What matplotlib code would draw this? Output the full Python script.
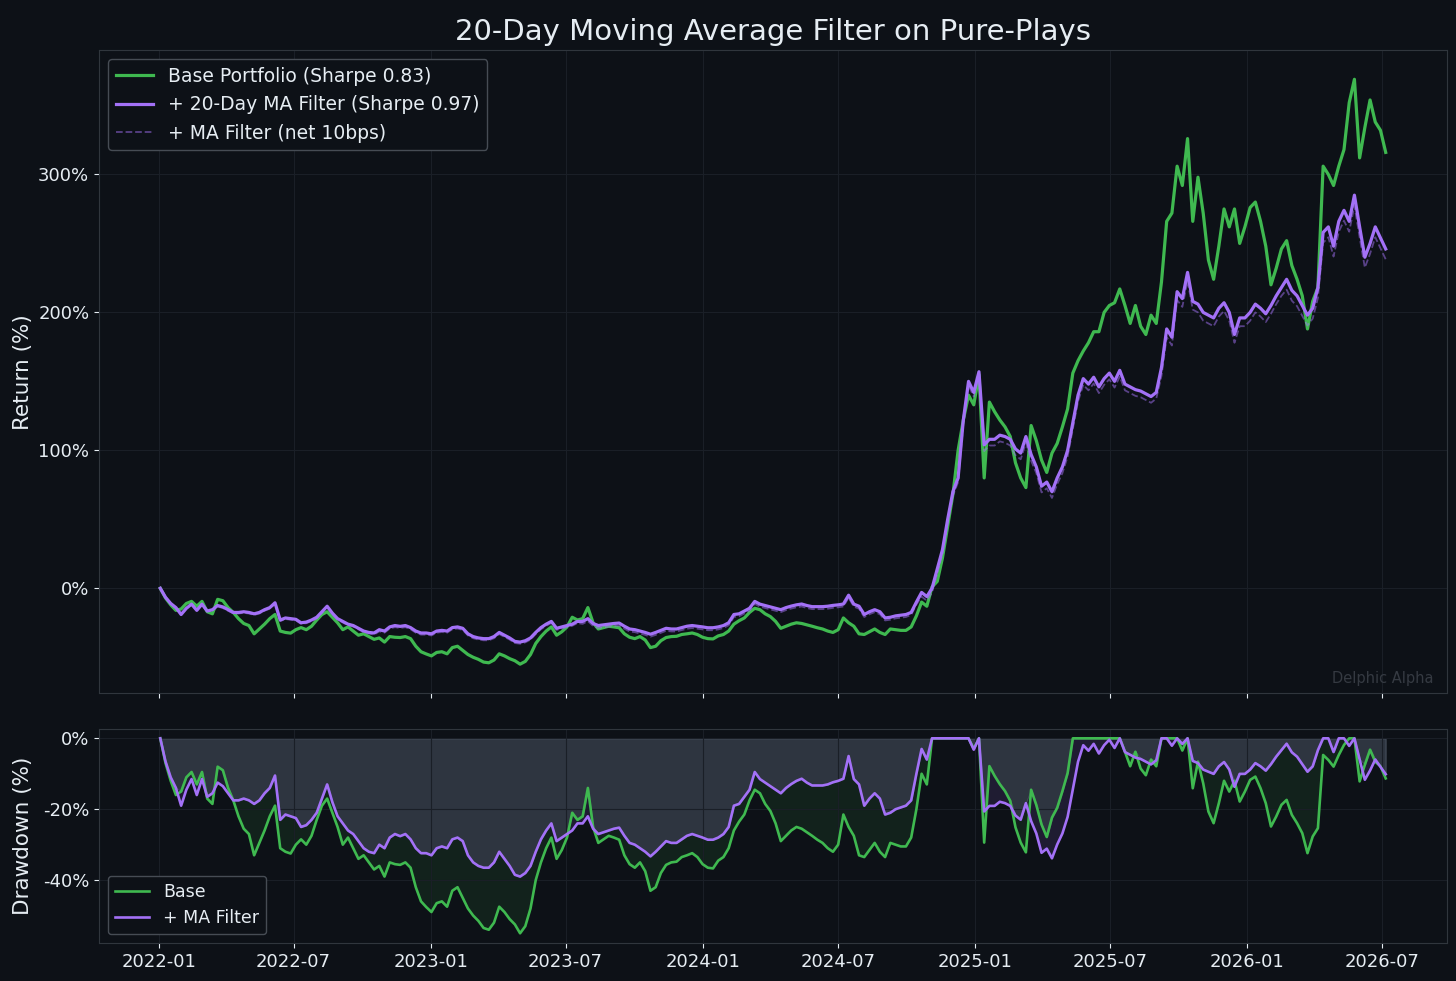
import numpy as np
import pandas as pd
import matplotlib
matplotlib.use("Agg")
import matplotlib.pyplot as plt
import matplotlib.dates as mdates
from matplotlib.ticker import FuncFormatter

# --- Données (rendement cumulé en %, une valeur par semaine) ---
start_date = "2022-01-03"

base_ret = [
    0, -7, -12, -16, -15, -11, -9.5, -13, -9.5, -17, -18.5, -8, -9, -14, -17.5, -22, -25.5, -27, -33, -29.5,
    -26, -22, -19, -31, -32, -32.5, -30, -28.5, -30, -27.5, -23, -19, -17, -21, -25, -30, -28, -31, -34, -33,
    -35, -37, -36, -39, -35, -35.5, -35.7, -35, -36.5, -42, -46, -47.6, -49, -46.5, -46, -47.5, -43, -42, -45, -48,
    -50, -51.5, -53.5, -54, -52, -47.5, -49, -51, -52.5, -55, -53, -48, -40, -35, -31, -28, -34, -31.5, -28, -21,
    -23, -22, -14, -25, -29.5, -28.5, -27.5, -28, -28.6, -33, -35.5, -36.5, -35, -37.5, -43, -42, -38, -35.7, -35, -34.8,
    -33.5, -33, -32.4, -33.5, -35.5, -36.5, -36.7, -34.5, -33.5, -31, -26, -23.5, -21.5, -17.5, -14.5, -15.5, -18.5, -20.5, -24, -29,
    -27.5, -26, -25, -25.5, -26.5, -27.5, -28.6, -29.5, -31, -32, -30, -21.5, -25, -27.5, -33, -33.5, -31.5, -29.5, -32, -33.5,
    -29.5, -30, -30.5, -30.5, -28, -20, -10, -13, 1, 5, 22, 45, 68, 100, 122, 140, 133, 155, 80, 135,
    128, 122, 117, 110, 91, 80, 73, 118, 107, 93, 84, 98, 105, 117, 130, 156, 165, 172, 178, 186,
    186, 200, 205, 207, 217, 205, 192, 205, 190, 184, 198, 192, 222, 266, 272, 306, 292, 326, 266, 298,
    272, 238, 224, 248, 275, 262, 275, 250, 262, 276, 280, 266, 248, 220, 232, 246, 252, 234, 224, 212,
    188, 208, 218, 306, 300, 292, 306, 318, 352, 369, 312, 334, 354, 338, 332, 316,
]

ma_ret = [
    0, -6.5, -11, -14, -19, -14.5, -11.5, -16, -11.5, -16.5, -15.5, -12.5, -13.5, -15.5, -17.5, -17.5, -17, -17.5, -18.5, -17.5,
    -15.5, -14, -10.5, -23, -21.5, -22, -22.5, -25, -24.5, -23, -21, -17, -13, -18, -22, -24, -26, -27, -29, -31,
    -32, -32.4, -30, -31, -28, -27, -27.6, -27, -28.5, -31, -32.4, -32.4, -33, -31, -30.5, -31, -28.5, -28, -29, -33,
    -35, -36, -36.5, -36.5, -35, -32, -34, -36, -38.5, -39, -38, -36, -32, -28.5, -26, -24, -29, -28, -27, -26,
    -24, -24, -22, -25.5, -27, -26.5, -26, -25.5, -25.2, -27.5, -29.5, -30, -31, -32, -33.3, -32, -30.5, -29, -29.5, -29.5,
    -28.5, -27.5, -27, -27.5, -28, -28.6, -28.6, -28, -27, -25, -19, -18.5, -16.5, -14.5, -9.5, -11.5, -12.5, -13.5, -14.5, -15.5,
    -14, -12.9, -12, -11.4, -12.5, -13.3, -13.3, -13.3, -13, -12.4, -12, -11.4, -5, -11.5, -13, -19, -17, -15.5, -17, -21.5,
    -21, -20, -19.5, -19, -17.5, -10, -3, -6, 0, 14, 28, 50, 70, 80, 122, 150, 142, 157, 104, 108,
    108, 111, 110, 108, 101, 98, 110, 97, 88, 74, 77, 70, 80, 88, 100, 120, 140, 152, 148, 153,
    146, 152, 156, 150, 158, 148, 146, 144, 143, 141, 139, 142, 160, 188, 182, 215, 210, 229, 208, 206,
    200, 198, 196, 203, 207, 200, 184, 196, 196, 200, 206, 203, 199, 205, 212, 218, 224, 216, 212, 205,
    198, 203, 218, 258, 262, 248, 266, 274, 266, 285, 262, 240, 250, 262, 254, 246,
]

net_ret = [
    0, -6.8, -11.3, -14.3, -19.3, -14.8, -11.8, -16.3, -11.8, -16.8, -15.8, -13.3, -14.3, -16.3, -18.3, -18.3, -17.8, -18.3, -19.3, -18.3,
    -16.3, -14.8, -11.3, -23.8, -22.3, -22.8, -23.3, -25.8, -25.3, -23.8, -21.8, -17.8, -13.8, -18.8, -22.8, -24.8, -26.8, -27.8, -29.8, -31.8,
    -32.8, -33.6, -31.2, -32.2, -29.2, -28.2, -28.8, -28.2, -29.7, -32.2, -33.6, -33.6, -34.2, -32.2, -31.7, -32.2, -29.7, -29.2, -30.2, -34.2,
    -36.2, -37.2, -37.7, -37.7, -36.2, -33.2, -35.2, -37.2, -39.7, -40.2, -39.2, -37.2, -33.2, -29.7, -27.2, -25.2, -30.2, -29.2, -28.2, -27.2,
    -25.2, -25.8, -23.8, -27.3, -28.8, -28.3, -27.8, -27.3, -27, -29.3, -31.3, -31.8, -32.8, -33.8, -35.1, -33.8, -32.3, -30.8, -31.3, -31.3,
    -30.3, -29.3, -28.8, -29.3, -29.8, -30.4, -30.4, -29.8, -28.8, -26.8, -20.8, -20.3, -18.3, -16.3, -11.3, -13.3, -14.3, -15.3, -16.3, -17.3,
    -15.8, -14.7, -13.8, -13.2, -14.3, -15.1, -15.1, -15.1, -14.8, -14.2, -13.8, -13.2, -6.8, -13.3, -14.8, -20.8, -18.8, -17.3, -18.8, -23.3,
    -22.8, -21.8, -21.3, -20.8, -19.3, -11.8, -6, -9, -3, 11, 25, 47, 67, 77, 119, 147, 139, 154, 99.5, 103.5,
    103.5, 106.5, 105.5, 103.5, 96.5, 93.5, 105.5, 92.5, 83.5, 69.5, 72.5, 65.5, 75.5, 83.5, 95.5, 115.5, 135.5, 147.5, 143.5, 148.5,
    141.5, 147.5, 151.5, 145.5, 153.5, 143.5, 141.5, 139.5, 138.5, 136.5, 134.5, 137.5, 154, 182, 176, 209, 204, 223, 202, 200,
    194, 192, 190, 197, 201, 194, 178, 190, 190, 194, 200, 197, 193, 199, 206, 212, 216.5, 208.5, 204.5, 197.5,
    190.5, 195.5, 210.5, 250.5, 254.5, 240.5, 258.5, 266.5, 258.5, 277.5, 254.5, 232.5, 242.5, 254.5, 246.5, 238.5,
]

dates = pd.date_range(start_date, periods=len(base_ret), freq="7D")

# --- Couleurs ---
BG = "#0d1117"
TXT = "#e6edf3"
VERT = "#3fb950"
VIOLET = "#a371f7"
GRIS = "#7d8ba0"


def drawdown(ret):
    """Drawdown (%) à partir du rendement cumulé (%)."""
    v = 1 + np.asarray(ret) / 100.0
    return (v / np.maximum.accumulate(v) - 1) * 100


def style_ax(ax):
    ax.set_facecolor(BG)
    for s in ax.spines.values():
        s.set_color("#30363d")
    ax.tick_params(colors=TXT, labelsize=13)
    ax.grid(True, color="#1a1f27", linewidth=0.8)
    ax.yaxis.set_major_formatter(FuncFormatter(lambda v, p: f"{v:.0f}%"))


def main():
    dd_base = drawdown(base_ret)
    dd_ma = drawdown(ma_ret)

    fig = plt.figure(figsize=(14.56, 9.81), dpi=100, facecolor=BG)
    gs = fig.add_gridspec(2, 1, height_ratios=[3, 1], hspace=0.082,
                          left=0.068, right=0.9938, top=0.949, bottom=0.0387)
    ax1 = fig.add_subplot(gs[0])
    ax2 = fig.add_subplot(gs[1], sharex=ax1)

    # Panneau du haut : rendements cumulés
    ax1.plot(dates, base_ret, color=VERT, lw=2.3, label="Base Portfolio (Sharpe 0.83)")
    ax1.plot(dates, ma_ret, color=VIOLET, lw=2.3, label="+ 20-Day MA Filter (Sharpe 0.97)")
    ax1.plot(dates, net_ret, color=VIOLET, lw=1.3, ls="--", alpha=0.5, label="+ MA Filter (net 10bps)")
    style_ax(ax1)
    ax1.set_ylabel("Return (%)", color=TXT, fontsize=15.5)
    ax1.set_title("20-Day Moving Average Filter on Pure-Plays", color=TXT, fontsize=21, pad=7)
    ax1.tick_params(axis="x", labelbottom=False)
    leg = ax1.legend(loc="upper left", fontsize=13.5, facecolor=BG, edgecolor="#4a5058", framealpha=0.95)
    for t in leg.get_texts():
        t.set_color(TXT)
    ax1.text(0.99, 0.012, "Delphic Alpha", transform=ax1.transAxes, ha="right", va="bottom",
             color="#353a42", fontsize=10.5)

    # Panneau du bas : drawdowns
    haut = np.maximum(dd_base, dd_ma)
    ax2.fill_between(dates, haut, 0, color=GRIS, alpha=0.3)
    ax2.fill_between(dates, dd_base, dd_ma, where=dd_base < dd_ma, color=VERT, alpha=0.1, interpolate=True, lw=0)
    ax2.fill_between(dates, dd_base, dd_ma, where=dd_base >= dd_ma, color=VIOLET, alpha=0.12, interpolate=True, lw=0)
    ax2.plot(dates, dd_base, color=VERT, lw=1.9, label="Base")
    ax2.plot(dates, dd_ma, color=VIOLET, lw=1.9, label="+ MA Filter")
    style_ax(ax2)
    ax2.set_yticks([0, -20, -40])
    ax2.set_ylabel("Drawdown (%)", color=TXT, fontsize=15.5)
    leg2 = ax2.legend(loc="lower left", fontsize=12.5, facecolor=BG, edgecolor="#4a5058", framealpha=0.95)
    for t in leg2.get_texts():
        t.set_color(TXT)

    ax2.xaxis.set_major_locator(mdates.MonthLocator(bymonth=(1, 7)))
    ax2.xaxis.set_major_formatter(mdates.DateFormatter("%Y-%m"))

    fig.align_ylabels([ax1, ax2])
    fig.savefig("out.png", dpi=100, facecolor=BG)


if __name__ == "__main__":
    main()
